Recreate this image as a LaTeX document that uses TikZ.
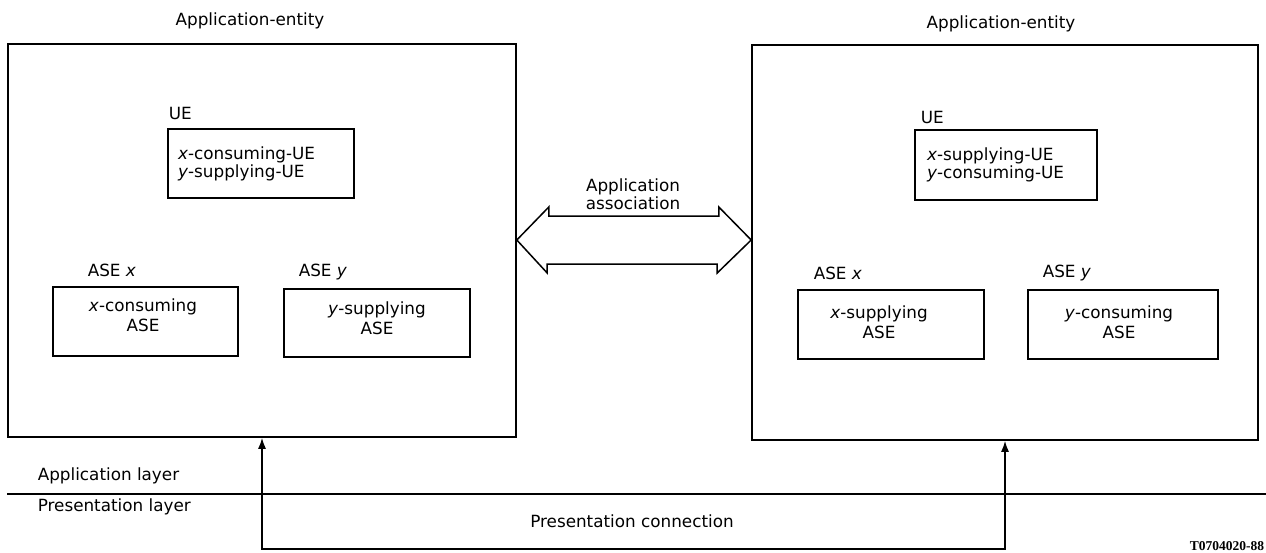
\documentclass[tikz,border=0pt]{standalone}
\usepackage{fontspec}
\setmainfont{DejaVu Sans}
\newfontfamily\codefont{Liberation Serif}
\usetikzlibrary{arrows.meta}
\begin{document}
\begin{tikzpicture}[x=1pt,y=-1pt,
  font=\fontsize{16.8pt}{18pt}\selectfont,
  line width=1.6pt,
  entity/.style={draw, inner sep=0pt},
  uebox/.style={draw, inner ysep=0pt, align=left},
  asebox/.style={draw, inner sep=0pt},
  lbl/.style={inner sep=0pt, anchor=west},
  txt/.style={inner sep=0pt, align=center, font=\fontsize{16.8pt}{20pt}\selectfont},
  conn/.style={line width=1.5pt, {Latex[length=11pt,width=8pt]}-{Latex[length=11pt,width=8pt]}},
  bigarrow/.style={line width=1.5pt, line join=miter}]
\useasboundingbox (0,0) rectangle (1266,552);

% titles
\node[inner sep=0pt] (tl) at (250,21) {Application-entity};
\node[inner sep=0pt] (tr) at (1001,24) {Application-entity};

% application entities
\node[entity, minimum width=508pt, minimum height=393pt] (L) at (262,240.5) {};
\node[entity, minimum width=506pt, minimum height=395pt] (R) at (1005,242.5) {};

% left contents
\node[lbl] (lue) at (168,113) {UE};
\node[uebox, minimum width=186pt, minimum height=69pt, inner xsep=10pt, text width=166pt] (lueb) at (261,163.5)
  {\textit{x}-consuming-UE\\\textit{y}-supplying-UE};
\node[lbl] (lasex) at (87,270) {ASE \textit{x}};
\node[asebox, minimum width=185pt, minimum height=69pt] (laxb) at (145.5,321.5) {};
\node[txt] (laxt) at (143,315) {\textit{x}-consuming\\ASE};
\node[lbl] (lasey) at (298,272) {ASE \textit{y}};
\node[asebox, minimum width=186pt, minimum height=68pt] (layb) at (377,323) {};
\node[txt] (layt) at (377,318) {\textit{y}-supplying\\ASE};

% right contents
\node[lbl] (rue) at (920,117) {UE};
\node[uebox, minimum width=182pt, minimum height=70pt, inner xsep=12pt, text width=158pt] (rueb) at (1006,165)
  {\textit{x}-supplying-UE\\\textit{y}-consuming-UE};
\node[lbl] (rasex) at (813,273) {ASE \textit{x}};
\node[asebox, minimum width=186pt, minimum height=69pt] (raxb) at (891,324.5) {};
\node[txt] (raxt) at (879,322) {\textit{x}-supplying\\ASE};
\node[lbl] (rasey) at (1042,273) {ASE \textit{y}};
\node[asebox, minimum width=190pt, minimum height=69pt] (rayb) at (1123,324.5) {};
\node[txt] (rayt) at (1119,322) {\textit{y}-consuming\\ASE};

% application association double arrow
\node[inner sep=0pt, align=center] (assoc) at (633,194) {Application\\association};
\draw[bigarrow] (L.east |- 0,240) -- ++(32,-33) -- ++(0,9) -- ++(170,0) -- ++(0,-9)
  -- (R.west |- 0,240) -- ++(-34,33) -- ++(0,-9) -- ++(-170,0) -- ++(0,9) -- cycle;

% layer boundary
\coordinate (lay1) at (7,494);
\coordinate (lay2) at (1266,494);
\draw[line width=1.5pt] (lay1) -- (lay2);
\node[lbl] (al) at (37,476) {Application layer};
\node[lbl] (pl) at (37,507) {Presentation layer};

% presentation connection
\coordinate (pcb) at (262,549);
\draw[conn] (L.south) -- (L.south |- pcb) -| (R.south);
\node[inner sep=0pt] (pc) at (632,521) {Presentation connection};

\node[inner sep=0pt, anchor=east, font=\codefont\bfseries\fontsize{13.5pt}{13.5pt}\selectfont] (code) at (1265,546) {T0704020-88};
\end{tikzpicture}
\end{document}
